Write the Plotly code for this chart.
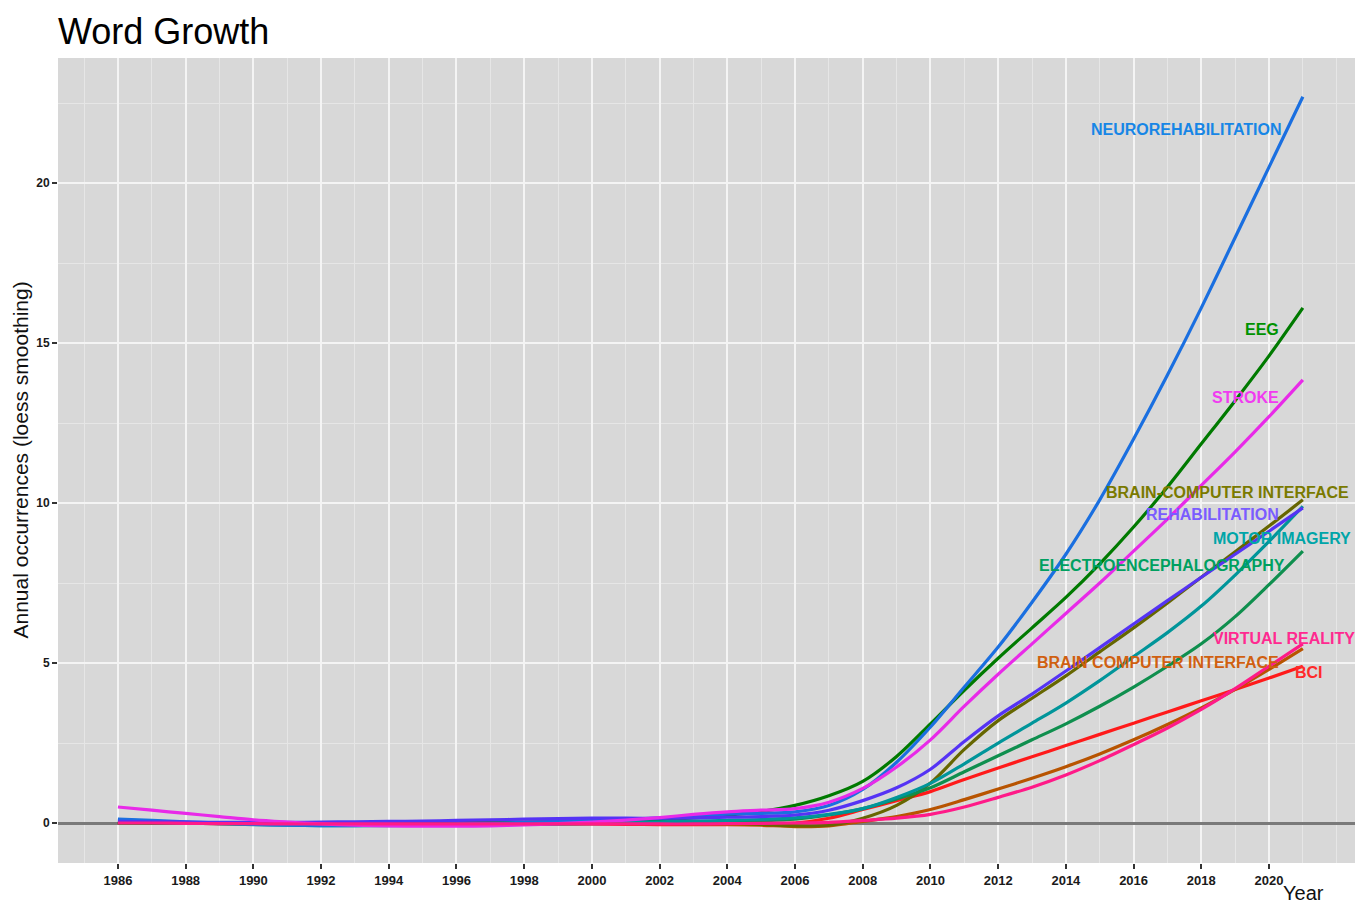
import plotly.graph_objects as go

# Years covered by the smoothed series
years = list(range(1986, 2022))

# Loess-smoothed annual occurrences per term (1986 .. 2021)
bci = [0.0, -0.01, -0.01, -0.02, -0.02, -0.02, -0.02, -0.02, -0.02, -0.02,
       -0.02, -0.03, -0.03, -0.03, -0.03, -0.04, -0.05, -0.05, -0.05, -0.04,
       0.0, 0.15, 0.42, 0.7, 0.98, 1.36, 1.72, 2.07, 2.42, 2.77,
       3.12, 3.47, 3.82, 4.17, 4.53, 4.9]
brain_computer_interface = [0.0, 0.0, 0.0, 0.0, -0.01, -0.01, -0.01, -0.01, -0.01, -0.01,
                            0.0, 0.0, 0.0, 0.0, 0.0, 0.0, -0.01, -0.02, -0.04, -0.07,
                            -0.11, -0.09, 0.05, 0.2, 0.42, 0.73, 1.06, 1.4, 1.76, 2.16,
                            2.6, 3.08, 3.6, 4.18, 4.8, 5.45]
brain_computer_interface_h = [0.0, 0.0, 0.0, -0.01, -0.02, -0.02, -0.02, -0.02, -0.01, 0.0,
                              0.01, 0.02, 0.03, 0.04, 0.05, 0.05, 0.04, 0.03, 0.0, -0.04,
                              -0.09, -0.07, 0.15, 0.55, 1.25, 2.3, 3.2, 3.9, 4.6, 5.35,
                              6.1, 6.88, 7.68, 8.48, 9.28, 10.1]
eeg = [0.02, 0.01, 0.0, -0.01, -0.02, -0.03, -0.03, -0.03, -0.03, -0.02,
       -0.02, -0.01, 0.0, 0.01, 0.03, 0.06, 0.1, 0.16, 0.24, 0.36,
       0.55, 0.85, 1.3, 2.08, 3.1, 4.15, 5.15, 6.1, 7.05, 8.1,
       9.25, 10.5, 11.85, 13.2, 14.6, 16.1]
electroencephalography = [0.0, 0.0, -0.01, -0.02, -0.03, -0.04, -0.05, -0.05, -0.05, -0.05,
                          -0.05, -0.05, -0.04, -0.03, -0.02, -0.01, 0.0, 0.02, 0.04, 0.07,
                          0.12, 0.25, 0.45, 0.75, 1.1, 1.6, 2.1, 2.6, 3.1, 3.65,
                          4.25, 4.9, 5.6, 6.45, 7.45, 8.5]
motor_imagery = [0.1, 0.06, 0.02, -0.02, -0.05, -0.07, -0.08, -0.08, -0.08, -0.07,
                 -0.06, -0.05, -0.04, -0.02, 0.0, 0.02, 0.04, 0.06, 0.08, 0.11,
                 0.16, 0.27, 0.45, 0.8, 1.24, 1.85, 2.5, 3.12, 3.75, 4.45,
                 5.2, 5.95, 6.78, 7.75, 8.8, 9.9]
neurorehabilitation = [0.12, 0.08, 0.04, 0.0, -0.04, -0.07, -0.08, -0.08, -0.07, -0.05,
                       -0.03, -0.01, 0.02, 0.05, 0.08, 0.11, 0.15, 0.22, 0.28, 0.3,
                       0.35, 0.55, 1.05, 1.9, 3.0, 4.25, 5.5, 6.9, 8.4, 10.1,
                       12.0, 14.0, 16.1, 18.3, 20.5, 22.7]
rehabilitation = [0.05, 0.04, 0.03, 0.02, 0.02, 0.02, 0.03, 0.04, 0.05, 0.06,
                  0.08, 0.1, 0.12, 0.14, 0.15, 0.15, 0.15, 0.16, 0.18, 0.2,
                  0.25, 0.4, 0.7, 1.1, 1.68, 2.55, 3.35, 4.03, 4.75, 5.48,
                  6.22, 6.95, 7.68, 8.4, 9.12, 9.85]
stroke = [0.5, 0.4, 0.3, 0.2, 0.1, 0.03, -0.03, -0.07, -0.09, -0.1,
          -0.1, -0.09, -0.06, -0.02, 0.03, 0.09, 0.17, 0.27, 0.35, 0.4,
          0.45, 0.65, 1.08, 1.75, 2.6, 3.65, 4.65, 5.6, 6.55, 7.5,
          8.5, 9.5, 10.55, 11.6, 12.7, 13.85]
virtual_reality = [0.0, 0.0, -0.01, -0.02, -0.02, -0.03, -0.03, -0.03, -0.03, -0.03,
                   -0.03, -0.03, -0.03, -0.03, -0.03, -0.03, -0.03, -0.03, -0.02, -0.01,
                   0.0, 0.02, 0.08, 0.15, 0.27, 0.5, 0.8, 1.12, 1.5, 1.95,
                   2.45, 2.97, 3.55, 4.2, 4.9, 5.6]

# Term names, in drawing order
terms = ["BCI", "BRAIN COMPUTER INTERFACE", "BRAIN-COMPUTER INTERFACE", "EEG",
         "ELECTROENCEPHALOGRAPHY", "MOTOR IMAGERY", "NEUROREHABILITATION",
         "REHABILITATION", "STROKE", "VIRTUAL REALITY"]
series = [bci, brain_computer_interface, brain_computer_interface_h, eeg,
          electroencephalography, motor_imagery, neurorehabilitation,
          rehabilitation, stroke, virtual_reality]

line_colors = ["#FF1A1A", "#B85400", "#666600", "#007A00", "#0F8F4E",
               "#00959A", "#1A6FE0", "#5533F5", "#E82AE8", "#FF1A88"]
label_colors = ["#FF2A2A", "#D06010", "#7A7A00", "#009200", "#00A060",
                "#00A5A8", "#1786E6", "#7A5CFF", "#F03CF0", "#FF2A90"]

# Label placement (x in years, y in occurrences, anchor side)
label_x = [2020.71, 2020.36, 2015.13, 2020.36, 2020.53, 2018.29, 2020.45, 2020.36, 2020.36, 2018.29]
label_y = [4.69, 5.03, 10.34, 15.44, 8.06, 8.88, 21.66, 9.63, 13.31, 5.78]
label_anchor = ["left", "right", "left", "right", "right", "left", "right", "right", "right", "left"]

x_ticks = list(range(1986, 2021, 2))
x_minor = [1985] + list(range(1987, 2022, 2)) + [2022]
y_ticks = [0, 5, 10, 15, 20]
y_minor = [2.5, 7.5, 12.5, 17.5, 22.5]

fig = go.Figure()

for name, vals, col in zip(terms, series, line_colors):
    fig.add_trace(go.Scatter(
        x=years, y=vals, mode="lines", name=name,
        line=dict(color=col, width=3.2, shape="spline", smoothing=0.9),
        hoverinfo="x+y+name",
    ))

for name, lx, ly, anc, col in zip(terms, label_x, label_y, label_anchor, label_colors):
    fig.add_annotation(
        x=lx, y=ly, xref="x", yref="y", text=name, showarrow=False,
        xanchor=anc, yanchor="middle",
        font=dict(family="Liberation Sans, Arial, sans-serif", size=16,
                  color=col, weight="bold"),
    )

# Axis titles
fig.add_annotation(
    x=-38 / 1297, y=0.5, xref="paper", yref="paper",
    text="Annual occurrences (loess smoothing)", textangle=-90, showarrow=False,
    xanchor="center", yanchor="middle",
    font=dict(family="Liberation Sans, Arial, sans-serif", size=21, color="#111111"),
)
fig.add_annotation(
    x=(1303 - 58) / 1297, y=-43 / 805, xref="paper", yref="paper",
    text="Year", showarrow=False, xanchor="center", yanchor="bottom",
    font=dict(family="Liberation Sans, Arial, sans-serif", size=20, color="#111111"),
)

axis_font = dict(family="Liberation Sans, Arial, sans-serif", size=13,
                 color="#1A1A1A", weight="bold")

fig.update_layout(
    width=1355, height=906,
    margin=dict(l=58, r=0, t=58, b=43),
    paper_bgcolor="white",
    plot_bgcolor="#D8D8D8",
    showlegend=False,
    title=dict(
        text="Word Growth", x=58 / 1355, xref="container", xanchor="left",
        y=1 - 31 / 906, yref="container", yanchor="middle",
        font=dict(family="Liberation Sans, Arial, sans-serif", size=36, color="#000000"),
    ),
    xaxis=dict(
        range=[1984.23, 2022.54],
        tickmode="array", tickvals=x_ticks,
        ticks="outside", ticklen=5, tickwidth=1.5, tickcolor="#333333",
        tickfont=axis_font,
        showgrid=True, gridcolor="#F4F4F4", gridwidth=2,
        minor=dict(tickmode="array", tickvals=x_minor, showgrid=True,
                   gridcolor="#E6E6E6", gridwidth=1, ticks=""),
        zeroline=False, showline=False,
    ),
    yaxis=dict(
        range=[-1.25, 23.91],
        tickmode="array", tickvals=y_ticks,
        ticks="outside", ticklen=5, tickwidth=1.5, tickcolor="#333333",
        tickfont=dict(family="Liberation Sans, Arial, sans-serif", size=12,
                      color="#1A1A1A", weight="bold"),
        showgrid=True, gridcolor="#F4F4F4", gridwidth=2,
        minor=dict(tickmode="array", tickvals=y_minor, showgrid=True,
                   gridcolor="#E6E6E6", gridwidth=1, ticks=""),
        zeroline=True, zerolinecolor="#7A7A7A", zerolinewidth=2.5,
        showline=False,
    ),
)

fig.write_html("out.html")
